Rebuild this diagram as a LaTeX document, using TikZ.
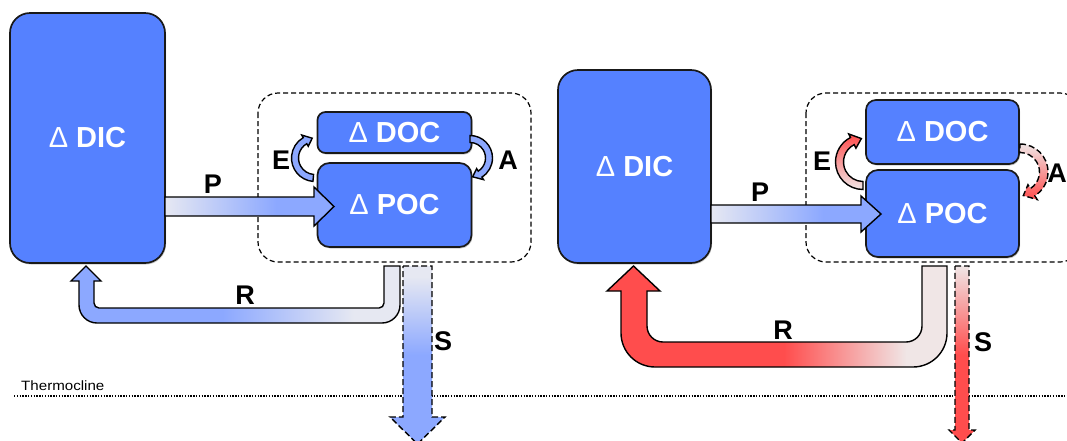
\documentclass[tikz,border=0pt]{standalone}
\usepackage{fontspec}
\usepackage{graphicx}
\setmainfont{Liberation Sans}
\usetikzlibrary{calc,shadows}
\definecolor{boxblue}{RGB}{85,129,255}
\definecolor{arrblue}{RGB}{140,168,255}
\definecolor{lightend}{RGB}{230,232,242}
\definecolor{arrred}{RGB}{255,77,77}
\definecolor{redlight}{RGB}{240,230,230}
\pgfdeclarehorizontalshading{pfadeblue}{100bp}{color(0bp)=(lightend); color(25bp)=(lightend); color(58bp)=(arrblue); color(100bp)=(arrblue)}
\pgfdeclarehorizontalshading{rfadeblue}{100bp}{color(0bp)=(arrblue); color(48bp)=(arrblue); color(68bp)=(lightend); color(100bp)=(lightend)}
\pgfdeclarehorizontalshading{rfadered}{100bp}{color(0bp)=(arrred); color(51bp)=(arrred); color(60bp)=(arrred!50!redlight); color(69bp)=(redlight); color(100bp)=(redlight)}
\pgfdeclareverticalshading{sfadeblue}{100bp}{color(0bp)=(arrblue); color(50bp)=(arrblue); color(72bp)=(lightend); color(100bp)=(lightend)}
\pgfdeclareverticalshading{sfadered}{100bp}{color(0bp)=(arrred); color(50bp)=(arrred); color(75bp)=(redlight); color(100bp)=(redlight)}
\tikzset{
  box/.style={draw=black!90, line width=1.7pt, fill=boxblue, text=white,
    font=\fontsize{29}{30}\selectfont\bfseries, inner sep=0pt,
    drop shadow={opacity=0.4, shadow xshift=1pt, shadow yshift=-1.5pt}},
  container/.style={draw=black, line width=1.2pt, dash pattern=on 5pt off 3pt, rounded corners=20},
  lbl/.style={font=\fontsize{27}{27}\selectfont\bfseries, text=black, inner sep=0pt},
  blockarrow/.style={draw=black, line width=1.4pt, line join=miter},
  dasharrow/.style={draw=black, line width=1.4pt, dash pattern=on 6pt off 3pt, line join=miter},
  dotline/.style={draw=black, line width=1.3pt, dash pattern=on 1.3pt off 1.5pt},
}
\newcommand\dl{{\mdseries Δ}}
% bent block arrow: style, cx, cy, rmid, halfwidth, start angle, head-base angle, tip angle, head extension
\newcommand\bentarrow[9]{%
  \pgfmathsetmacro\bRo{#4+#5}%
  \pgfmathsetmacro\bRi{#4-#5}%
  \pgfmathsetmacro\bHo{#4+#5+#9}%
  \pgfmathsetmacro\bHi{#4-#5-#9}%
  \path[#1] ($(#2,#3)+(#6:\bRo)$) arc[start angle=#6,end angle=#7,radius=\bRo]
    -- ($(#2,#3)+(#7:\bHo)$) -- ($(#2,#3)+(#8:#4)$) -- ($(#2,#3)+(#7:\bHi)$)
    -- ($(#2,#3)+(#7:\bRi)$) arc[start angle=#7,end angle=#6,radius=\bRi] -- cycle;}
\begin{document}
\begin{tikzpicture}[x=1pt,y=-1pt]
\path[use as bounding box] (0,0) rectangle (1067,440);
% thermocline
\draw[dotline] (14,396) coordinate (tl0) -- (1067,396) coordinate (tl1);
\node[anchor=base west, inner sep=0pt, font=\fontsize{13.5}{13.5}\selectfont] (thermo) at (21,390) {\scalebox{1.12}[1]{Thermocline}};

% ===== left panel =====
\draw[container] (258,93) rectangle (531,262);
\node[box, minimum width=155, minimum height=250, rounded corners=20] (dicL) at (87.5,138) {\dl\ DIC};
\node[box, minimum width=154, minimum height=41, rounded corners=8] (docL) at (394.5,132.5) {\dl\ DOC};
\node[box, minimum width=154, minimum height=84, rounded corners=12] (pocL) at (394.5,205) {\dl\ POC};
% P
\path[blockarrow, shading=pfadeblue] (165,197) -- (314,197) -- (314,187) -- (334,206.5) -- (314,226) -- (314,216) -- (165,216) -- cycle;
\node[lbl] (pL) at (213,184) {P};
% E and A
\bentarrow{blockarrow, fill=arrblue}{315}{158}{20}{3.5}{95}{240}{262}{3}
\node[lbl] (eL) at (281,160) {E};
\bentarrow{blockarrow, fill=arrblue}{470}{158}{19}{3.5}{-90}{58}{82}{3}
\node[lbl] (aL) at (508,160) {A};
% R
\path[blockarrow, shading=rfadeblue] (400,266) -- (400,305) arc[start angle=0,end angle=90,radius=18]
  -- (97,323) arc[start angle=90,end angle=180,radius=18]
  -- (79,281) -- (71,281) -- (86,266) -- (101,281) -- (94,281)
  -- (94,303) arc[start angle=180,end angle=90,radius=5]
  -- (379,308) arc[start angle=90,end angle=0,radius=5] -- (384,266) -- cycle;
\node[lbl] (rL) at (245,295) {R};
% S
\path[dasharrow, shading=sfadeblue] (403,266) -- (432,266) -- (432,417) -- (445,417) -- (417.5,444) -- (390,417) -- (403,417) -- cycle;
\node[lbl] (sL) at (443,341) {S};

% ===== right panel =====
\draw[container] (806,93) rectangle (1080,262);
\node[box, minimum width=153, minimum height=193, rounded corners=20] (dicR) at (634.5,166.5) {\dl\ DIC};
\node[box, minimum width=153, minimum height=64, rounded corners=10] (docR) at (942.5,132) {\dl\ DOC};
\node[box, minimum width=153, minimum height=87, rounded corners=12] (pocR) at (942.5,213.5) {\dl\ POC};
% P
\path[blockarrow, shading=pfadeblue] (711,205) -- (861,205) -- (861,196) -- (881,214) -- (861,232) -- (861,223) -- (711,223) -- cycle;
\node[lbl] (pR) at (760,192) {P};
% E and A
\bentarrow{blockarrow, top color=arrred, bottom color=redlight}{863}{162}{23.5}{4}{90}{243}{266}{4}
\node[lbl] (eR) at (822,161) {E};
\bentarrow{dasharrow, top color=redlight, bottom color=arrred}{1020}{172}{23.75}{4.25}{-90}{58}{82}{4.5}
\node[lbl] (aR) at (1057,173) {A};
% R
\path[blockarrow, shading=rfadered] (947,266) -- (947,333) arc[start angle=0,end angle=90,radius=34]
  -- (655,367) arc[start angle=90,end angle=180,radius=34]
  -- (621,291) -- (607,291) -- (633.5,266) -- (660,291) -- (647,291)
  -- (647,326) arc[start angle=180,end angle=90,radius=16]
  -- (906,342) arc[start angle=90,end angle=0,radius=16] -- (922,266) -- cycle;
\node[lbl] (rR) at (783,330) {R};
% S
\path[dasharrow, shading=sfadered] (955,266) -- (969,266) -- (969,430) -- (975,430) -- (962,443) -- (949,430) -- (955,430) -- cycle;
\node[lbl] (sR) at (983,342) {S};
\end{tikzpicture}
\end{document}
